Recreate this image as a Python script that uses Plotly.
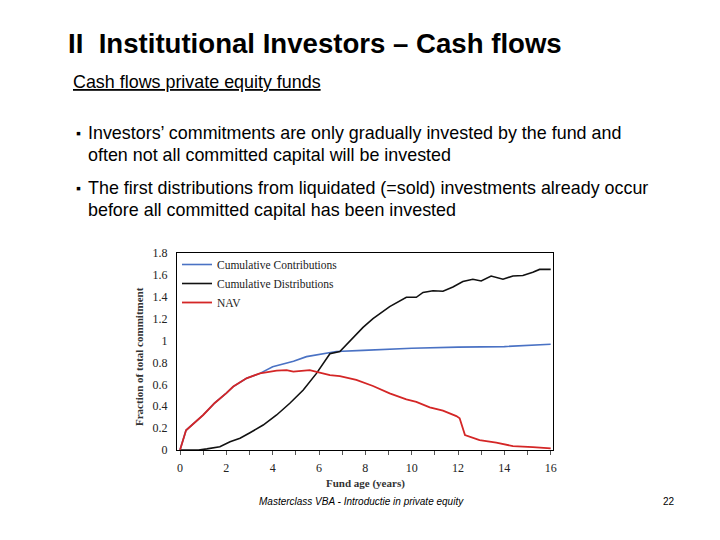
import plotly.graph_objects as go

# ---------------- data ----------------
contrib_x = [0, 0.26, 1.0, 1.5, 2.0, 2.3, 2.87, 3.45, 4.0, 4.9, 5.46, 6.0, 6.75, 7.9, 9.0, 10.0, 12.0, 14.0, 16.0]
contrib_y = [0, 0.18, 0.32, 0.43, 0.52, 0.58, 0.655, 0.70, 0.76, 0.81, 0.853, 0.875, 0.90, 0.91, 0.92, 0.93, 0.94, 0.945, 0.966]

distr_x = [0, 0.8, 1.16, 1.72, 2.16, 2.59, 3.02, 3.59, 4.17, 4.74, 5.32, 5.89, 6.47, 6.9, 7.9, 8.33, 9.05, 9.77, 10.2,
           10.49, 10.92, 11.35, 11.78, 12.21, 12.64, 13.0, 13.43, 13.94, 14.37, 14.8, 15.23, 15.52, 16.0]
distr_y = [0, 0, 0.01, 0.03, 0.076, 0.107, 0.158, 0.228, 0.32, 0.427, 0.548, 0.70, 0.88, 0.90, 1.12, 1.20, 1.31, 1.395, 1.395,
           1.44, 1.455, 1.45, 1.49, 1.54, 1.56, 1.545, 1.59, 1.56, 1.59, 1.595, 1.624, 1.65, 1.65]

nav_x = [0, 0.26, 1.0, 1.5, 2.0, 2.3, 2.87, 3.45, 4.17, 4.6, 4.89, 5.6, 6.03, 6.47, 6.9, 7.61, 8.33, 9.05, 9.77, 10.2,
         10.78, 11.35, 11.93, 12.07, 12.3, 12.93, 13.65, 14.37, 15.23, 16.0]
nav_y = [0, 0.18, 0.32, 0.43, 0.52, 0.58, 0.655, 0.70, 0.725, 0.73, 0.716, 0.73, 0.707, 0.685, 0.676, 0.64, 0.585, 0.518, 0.463, 0.44,
         0.39, 0.36, 0.31, 0.29, 0.137, 0.09, 0.067, 0.036, 0.027, 0.015]

x_tickvals = [0, 2, 4, 6, 8, 10, 12, 14, 16]
y_tickvals = [0, 0.2, 0.4, 0.6, 0.8, 1.0, 1.2, 1.4, 1.6, 1.8]
y_ticktext = ["0", "0.2", "0.4", "0.6", "0.8", "1", "1.2", "1.4", "1.6", "1.8"]

# ---------------- figure ----------------
W, H = 720, 540
L, R, T, B = 177, 553, 253, 450
serif = "Liberation Serif, Times New Roman, serif"
sans = "Liberation Sans, Arial, sans-serif"


def px(x):
    return (x - L) / (R - L)


def py(y):
    return (B - y) / (B - T)


fig = go.Figure()
fig.add_trace(go.Scatter(x=contrib_x, y=contrib_y, mode="lines", name="Cumulative Contributions",
                         line=dict(color="#4a72c4", width=1.6)))
fig.add_trace(go.Scatter(x=distr_x, y=distr_y, mode="lines", name="Cumulative Distributions",
                         line=dict(color="#111111", width=1.6)))
fig.add_trace(go.Scatter(x=nav_x, y=nav_y, mode="lines", name="NAV",
                         line=dict(color="#d42626", width=1.8)))

fig.update_layout(
    width=W, height=H,
    margin=dict(l=L, r=W - R, t=T, b=H - B, pad=0),
    paper_bgcolor="white", plot_bgcolor="white",
    showlegend=True,
    legend=dict(x=px(177), y=py(250), xanchor="left", yanchor="top",
                bgcolor="rgba(0,0,0,0)", font=dict(family=serif, size=11.5, color="#222"),
                tracegroupgap=0, itemwidth=30),
    xaxis=dict(range=[-0.13, 16.1], tickmode="array", tickvals=x_tickvals,
               showgrid=False, zeroline=False, showline=True, linecolor="black", linewidth=1,
               mirror=True, ticks="outside", ticklen=4, tickcolor="#555",
               minor=dict(dtick=1, ticks="outside", ticklen=4, tickcolor="#555"),
               tickfont=dict(family=serif, size=12, color="#222"), ticklabelstandoff=3),
    yaxis=dict(range=[0, 1.8], tickmode="array", tickvals=y_tickvals, ticktext=y_ticktext,
               showgrid=False, zeroline=False, showline=True, linecolor="black", linewidth=1,
               mirror=True, ticks="",
               tickfont=dict(family=serif, size=12, color="#222"), ticklabelstandoff=6),
)

ann = []
ann.append(dict(text="<b>II  Institutional Investors – Cash flows</b>", x=px(66), y=py(44),
                xanchor="left", yanchor="middle", font=dict(family=sans, size=27.6, color="black")))
ann.append(dict(text="<u>Cash flows private equity funds</u>", x=px(71), y=py(82),
                xanchor="left", yanchor="middle", font=dict(family=sans, size=17.9, color="black")))
bullet_lines = [
    ("Investors’ commitments are only gradually invested by the fund and", 133, True),
    ("often not all committed capital will be invested", 155, False),
    ("The first distributions from liquidated (=sold) investments already occur", 188, True),
    ("before all committed capital has been invested", 210, False),
]
for txt, yy, first in bullet_lines:
    if first:
        ann.append(dict(text="▪", x=px(74), y=py(yy), xanchor="left", yanchor="middle",
                        font=dict(family=sans, size=14, color="black")))
    ann.append(dict(text=txt, x=px(86), y=py(yy), xanchor="left", yanchor="middle",
                    font=dict(family=sans, size=17.9, color="black")))
ann.append(dict(text="<b>Fraction of total commitment</b>", x=px(139), y=py(357), textangle=-90,
                xanchor="center", yanchor="middle", font=dict(family=serif, size=11, color="#333")))
ann.append(dict(text="<b>Fund age (years)</b>", x=px(365), y=py(483),
                xanchor="center", yanchor="middle", font=dict(family=serif, size=11, color="#333")))
ann.append(dict(text="<i>Masterclass VBA - Introductie in private equity</i>", x=px(257), y=py(501),
                xanchor="left", yanchor="middle", font=dict(family=sans, size=10, color="black")))
ann.append(dict(text="22", x=px(677), y=py(501), xanchor="right", yanchor="middle",
                font=dict(family=sans, size=10, color="black")))
for a in ann:
    a.update(xref="paper", yref="paper", showarrow=False)
fig.update_layout(annotations=ann)

fig.write_html("out.html", config={"displayModeBar": False},
               post_script="document.body.style.margin='0';document.body.style.padding='0';")
